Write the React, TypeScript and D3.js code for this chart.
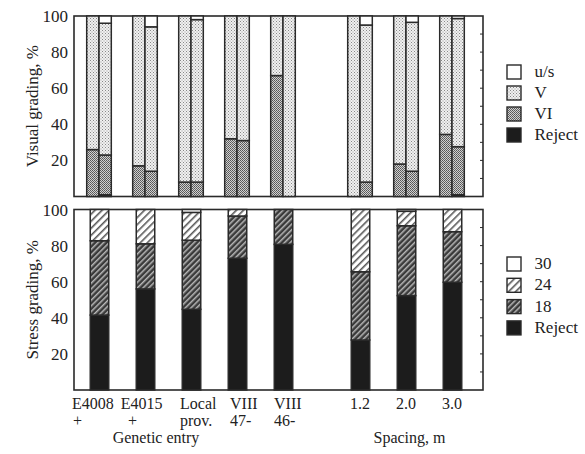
import React from "react";
import * as d3 from "d3";

const groups = ["E4008 +", "E4015 +", "Local prov.", "VIII 47-", "VIII 46-", "1.2", "2.0", "3.0"];
const groupSection = [0, 0, 0, 0, 0, 1, 1, 1];
const groupIndexInSection = [0, 1, 2, 3, 4, 0, 1, 2];
const labelLine1 = ["E4008", "E4015", "Local", "VIII", "VIII", "1.2", "2.0", "3.0"];
const labelLine2 = ["+", "+", "prov.", "47-", "46-", "", "", ""];
const yTicks = [20, 40, 60, 80, 100];

// Visual grading, first bar of each pair
const visRejectA = [0, 0, 0, 0, 0, 0, 0, 0];
const visVIA = [26, 17, 8, 32, 67, 0, 18, 34.4];
const visVA = [74, 83, 92, 68, 33, 100, 82, 65.6];
const visUsA = [0, 0, 0, 0, 0, 0, 0, 0];
// Visual grading, second bar of each pair
const visRejectB = [1, 0, 0, 0, 0, 0, 0, 1];
const visVIB = [22, 14, 8, 31, 0, 8, 14, 26.6];
const visVB = [73, 80, 90, 69, 100, 87, 82.5, 71];
const visUsB = [4, 6, 2, 0, 0, 5, 3.5, 1.4];

// Stress grading
const strReject = [41.5, 56, 44.7, 73, 80.7, 27.7, 52.3, 59.7];
const str18 = [41.2, 25, 38.3, 23.4, 19.3, 37.8, 38.7, 28];
const str24 = [17.3, 19, 15.4, 3.6, 0, 34.5, 8, 12.3];
const str30 = [0, 0, 1.6, 0, 0, 0, 1, 0];

const visLegend = ["u/s", "V", "VI", "Reject"];
const strLegend = ["30", "24", "18", "Reject"];

const FONT = "'Liberation Serif', 'Times New Roman', serif";
const FS = 17;
const FSX = 16;
const STROKE = "#2a2a2a";

const fills = {
  us: "#ffffff",
  V: "url(#patV)",
  VI: "url(#patVI)",
  reject: "#1c1c1c",
  s30: "#ffffff",
  s24: "url(#pat24)",
  s18: "url(#pat18)",
};

export default function App() {
  const W = 585, H = 454;
  const left = 74, right = 483;
  const topPanel = { y0: 196.5, y1: 16 };
  const botPanel = { y0: 390, y1: 209.5 };

  const sectionScale = [
    d3.scaleLinear().domain([0, 4]).range([99, 283]),
    d3.scaleLinear().domain([0, 2]).range([360, 452]),
  ];
  const cx = (i: number) => sectionScale[groupSection[i]](groupIndexInSection[i]);

  const yTop = d3.scaleLinear().domain([0, 100]).range([topPanel.y0, topPanel.y1]);
  const yBot = d3.scaleLinear().domain([0, 100]).range([botPanel.y0, botPanel.y1]);

  const pairW = 12.3;
  const barW = 18.5;

  const stackBar = (
    key: string,
    x: number,
    w: number,
    vals: number[],
    fillList: string[],
    y: d3.ScaleLinear<number, number>
  ) => {
    const out: JSX.Element[] = [];
    let acc = 0;
    vals.forEach((v, k) => {
      if (v <= 0) { acc += v; return; }
      const yTopV = y(acc + v);
      const yBotV = y(acc);
      out.push(
        <rect
          key={key + "-" + k}
          x={x}
          y={yTopV}
          width={w}
          height={yBotV - yTopV}
          fill={fillList[k]}
          stroke={STROKE}
          strokeWidth={1.5}
        />
      );
      acc += v;
    });
    return out;
  };

  const visFills = [fills.reject, fills.VI, fills.V, fills.us];
  const strFills = [fills.reject, fills.s18, fills.s24, fills.s30];

  const line1Start = [-27, -24.3, -11, -7, -9];
  const line2Start = [-26, -17, -11, -7, -9];

  const panelFrame = (y0: number, y1: number, y: d3.ScaleLinear<number, number>, key: string) => (
    <g key={key}>
      <rect x={left} y={y1} width={right - left} height={y0 - y1} fill="none" stroke={STROKE} strokeWidth={1.6} />
      {yTicks.map((t) => (
        <text key={t} x={68} y={y(t) + 6} textAnchor="end" fontFamily={FONT} fontSize={FS} fill="#222">
          {t}
        </text>
      ))}
      {d3.range(10, 100, 10).map((t) => (
        <line key={"rt" + t} x1={right} x2={right - 3} y1={y(t)} y2={y(t)} stroke={STROKE} strokeWidth={1} />
      ))}
    </g>
  );

  return (
    <svg width={W} height={H} style={{ position: "absolute", left: 0, top: 0, background: "#fff" }}>
      <defs>
        <pattern id="patV" width="3" height="3" patternUnits="userSpaceOnUse">
          <rect width="3" height="3" fill="#f0f0f0" />
          <rect x="0" y="0" width="1" height="1" fill="#888" />
          <rect x="1.5" y="1.5" width="1" height="1" fill="#9a9a9a" />
        </pattern>
        <pattern id="patVI" width="2" height="2" patternUnits="userSpaceOnUse">
          <rect width="2" height="2" fill="#d0d0d0" />
          <rect x="0" y="0" width="1" height="1" fill="#555" />
          <rect x="1" y="1" width="1" height="1" fill="#666" />
        </pattern>
        <pattern id="pat24" width="5" height="5" patternUnits="userSpaceOnUse" patternTransform="rotate(45)">
          <rect width="5" height="5" fill="#ffffff" />
          <rect x="0" y="0" width="1.6" height="5" fill="#5a5a5a" />
        </pattern>
        <pattern id="pat18" width="4" height="4" patternUnits="userSpaceOnUse" patternTransform="rotate(45)">
          <rect width="4" height="4" fill="#3a3a3a" />
          <rect x="0" y="0" width="1.5" height="4" fill="#b8b8b8" />
        </pattern>
      </defs>

      {panelFrame(topPanel.y0, topPanel.y1, yTop, "top")}
      {panelFrame(botPanel.y0, botPanel.y1, yBot, "bot")}

      {groups.map((g, i) => (
        <g key={"vis" + g}>
          {stackBar("a" + i, cx(i) - pairW, pairW, [visRejectA[i], visVIA[i], visVA[i], visUsA[i]], visFills, yTop)}
          {stackBar("b" + i, cx(i), pairW, [visRejectB[i], visVIB[i], visVB[i], visUsB[i]], visFills, yTop)}
        </g>
      ))}

      {groups.map((g, i) => (
        <g key={"str" + g}>
          {stackBar("s" + i, cx(i) + 0.5 - barW / 2, barW, [strReject[i], str18[i], str24[i], str30[i]], strFills, yBot)}
        </g>
      ))}

      {groups.map((g, i) =>
        groupSection[i] === 0 ? (
          <g key={"lab" + g}>
            <text x={cx(i) + line1Start[i]} y={409} fontFamily={FONT} fontSize={FSX} fill="#222">
              {labelLine1[i]}
            </text>
            <text x={cx(i) + line2Start[i]} y={426} fontFamily={FONT} fontSize={FSX} fill="#222">
              {labelLine2[i]}
            </text>
          </g>
        ) : (
          <text key={"lab" + g} x={cx(i)} y={409} textAnchor="middle" fontFamily={FONT} fontSize={FSX} fill="#222">
            {labelLine1[i]}
          </text>
        )
      )}

      <text x={156} y={443} textAnchor="middle" fontFamily={FONT} fontSize={FSX} fill="#222">Genetic entry</text>
      <text x={409.5} y={443} textAnchor="middle" fontFamily={FONT} fontSize={FSX} fill="#222">Spacing, m</text>

      <text transform={`translate(38,${(topPanel.y0 + topPanel.y1) / 2}) rotate(-90)`} textAnchor="middle" fontFamily={FONT} fontSize={FS} fill="#222">
        Visual grading, %
      </text>
      <text transform={`translate(38,${(botPanel.y0 + botPanel.y1) / 2}) rotate(-90)`} textAnchor="middle" fontFamily={FONT} fontSize={FS} fill="#222">
        Stress grading, %
      </text>

      {visLegend.map((l, k) => {
        const f = [fills.us, fills.V, fills.VI, fills.reject][k];
        const y = 65 + k * 21;
        return (
          <g key={"vl" + l}>
            <rect x={507} y={y} width={14} height={14} fill={f} stroke={STROKE} strokeWidth={1.4} />
            <text x={534.5} y={y + 12} fontFamily={FONT} fontSize={FS} fill="#222">{l}</text>
          </g>
        );
      })}
      {strLegend.map((l, k) => {
        const f = [fills.s30, fills.s24, fills.s18, fills.reject][k];
        const y = 257 + k * 21.3;
        return (
          <g key={"sl" + l}>
            <rect x={507} y={y} width={14} height={14} fill={f} stroke={STROKE} strokeWidth={1.4} />
            <text x={534.5} y={y + 12} fontFamily={FONT} fontSize={FS} fill="#222">{l}</text>
          </g>
        );
      })}
    </svg>
  );
}
